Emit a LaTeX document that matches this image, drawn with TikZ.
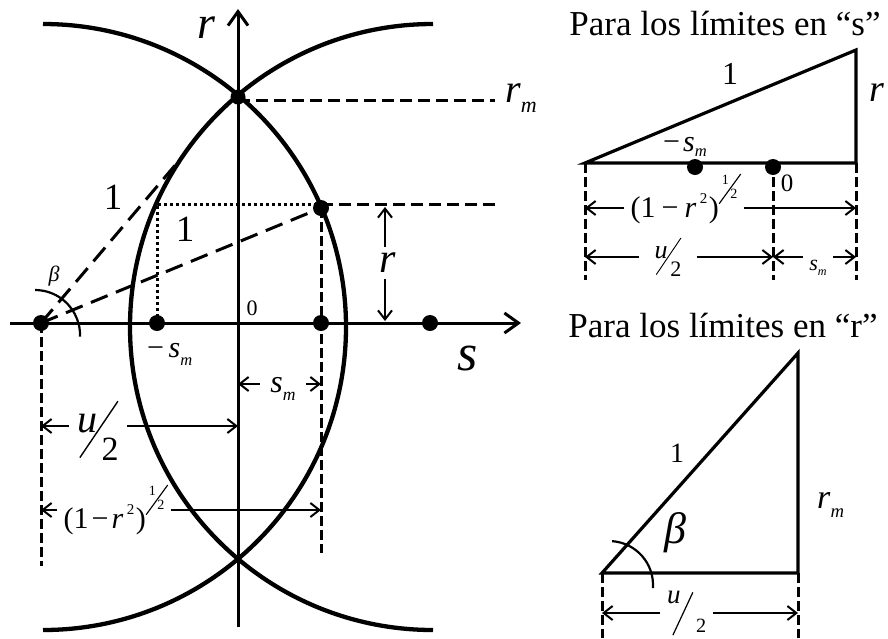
\documentclass[tikz,border=0pt]{standalone}
\usepackage{fontspec}
\setmainfont{Liberation Serif}
\usetikzlibrary{arrows.meta}
\newcommand{\fsz}[1]{\fontsize{#1}{#1}\selectfont}
\newcommand{\subm}[2]{\textit{#1}\raisebox{-0.27em}{\scalebox{0.55}{\textit{#2}}}}
\newcommand{\ufrac}[2]{#1\kern-0.45em\raisebox{-0.65em}{\rotatebox{56}{\rule{1.7em}{0.035em}}}\kern-0.42em\raisebox{-0.7em}{\scalebox{0.85}{#2}}}
\newcommand{\ufracb}[2]{#1\kern-0.31em\raisebox{-1.2em}{\rotatebox{65}{\rule{1.75em}{0.045em}}}\kern0.1em\raisebox{-1.1em}{\scalebox{0.75}{#2}}}
\newcommand{\halfexp}{\raisebox{1em}{1}\kern-0.73em\raisebox{-0.4em}{\rotatebox{54}{\rule{2.6em}{0.08em}}}\kern-0.77em 2}
\newcommand{\onemr}[1]{(1\kern#1−\kern#1\textit{r}\kern0.12em\raisebox{0.45em}{\scalebox{0.5}{2}}\kern0.05em)\kern0.1em\raisebox{0.62em}{\scalebox{0.47}{\halfexp}}}
\tikzset{
  curve/.style={line width=4.3pt},
  axis/.style={line width=3pt,-{Straight Barb[length=14pt,width=20pt]}},
  dimarr/.style={line width=2pt,-{Straight Barb[length=9pt,width=14pt]}},
  dsh/.style={line width=3pt,dash pattern=on 12pt off 6pt},
  ldsh/.style={line width=3pt,dash pattern=on 18pt off 9pt},
  vdsh/.style={line width=3pt,dash pattern=on 10pt off 4pt},
  dotl/.style={line width=3pt,dash pattern=on 3pt off 3pt},
  tri/.style={line width=3.2pt},
  thinarc/.style={line width=2.2pt},
  bigdot/.style={circle,fill=black,inner sep=0pt,minimum size=16pt},
  lbl/.style={inner sep=0pt},
}
\begin{document}
\begin{tikzpicture}[x=1pt,y=-1pt]
\path[use as bounding box] (0,0) rectangle (888,638);
% ================= left figure =================
\coordinate (Lc) at (43,327);
\coordinate (Rc) at (433,327);
\coordinate (sA) at (10,323);
\coordinate (sB) at (521,323);
\coordinate (rA) at (238,627);
\coordinate (rB) at (238,9);
\coordinate (cL) at (41,323);
\coordinate (cRR) at (430,323);
\coordinate (cms) at (157,323);
\coordinate (csm) at (321,323);
\coordinate (cr) at (321,208);
\coordinate (crm) at (238,97);
\coordinate (cq) at (157,204);
\coordinate (cqr) at (321,204);
\coordinate (cqe) at (497,204);
\coordinate (crmA) at (238,100);
\coordinate (crmE) at (495,100);
\coordinate (cU) at (177,163);
\coordinate (cLb) at (41,566);
\coordinate (crb) at (321,553);

\draw[curve] (Lc) ++(0,-303) arc[start angle=-90,end angle=90,radius=303];
\draw[curve] (Rc) ++(0,-303) arc[start angle=270,end angle=90,radius=303];

\draw[axis] (sA) -- (sB);
\draw[axis] (rA) -- (rB);

\draw[dsh] (crmA) -- (crmE);
\draw[dotl] (cms) -- (cq) -- (cqr);
\draw[dsh] (cqr) -- (cqe);
\draw[ldsh] (cL) -- (cr);
\draw[ldsh] (cL) -- (cU);
\draw[vdsh] (cL) -- (cLb);
\draw[vdsh] (cr) -- (crb);
\draw[thinarc] (80,336.6) arc[start angle=2,end angle=-90,radius=45];

\foreach \p in {cL,cRR,cms,csm,cr} \node[bigdot] (d-\p) at (\p) {};
\node[bigdot,minimum size=15pt] (d-crm) at (crm) {};

% dimension s_m
\coordinate (sm1) at (238,384);
\coordinate (sm2) at (321,384);
\node[lbl,inner xsep=10pt,anchor=base,font=\fsz{32}] (lsm) at (283,392) {\subm{s}{m}};
\draw[dimarr] (sm1 -| lsm.west) -- (sm1);
\draw[dimarr] (sm2 -| lsm.east) -- (sm2);
% dimension u/2
\coordinate (uh1) at (41,426);
\coordinate (uh2) at (238,426);
\node[lbl,inner xsep=8pt,anchor=base,font=\fsz{40}] (luh) at (98,432) {\ufrac{\textit{u}}{2}};
\draw[dimarr] (uh1 -| luh.west) -- (uh1);
\draw[dimarr] (uh2 -| luh.east) -- (uh2);
% dimension (1-r^2)^(1/2)
\coordinate (om1) at (41,510);
\coordinate (om2) at (321,510);
\node[lbl,inner xsep=6pt,anchor=base,font=\fsz{30}] (lom) at (114,528) {\onemr{0.1em}};
\draw[dimarr] (om1 -| lom.west) -- (om1);
\draw[dimarr] (om2 -| lom.east) -- (om2);
% dimension r
\coordinate (rr1) at (385,207);
\coordinate (rr2) at (385,321);
\node[lbl,inner ysep=6pt,font=\fsz{42}] (lrr) at (388,263) {\textit{r}};
\draw[dimarr] (rr1 |- lrr.north) -- (rr1);
\draw[dimarr] (rr2 |- lrr.south) -- (rr2);

% labels
\node[lbl,anchor=base,font=\fsz{46}] (lr) at (207,38) {\textit{r}};
\node[lbl,anchor=base,font=\fsz{52}] (ls) at (468,370) {\textit{s}};
\node[lbl,anchor=base west,font=\fsz{40}] (lrm) at (505,102) {\subm{r}{m}};
\node[lbl,font=\fsz{22}] (l0) at (252,308) {0};
\node[lbl,anchor=base west,font=\fsz{30}] (lms) at (147,357) {−\kern0.15em\subm{s}{m}};
\node[lbl,font=\fsz{37}] (l1a) at (113,197) {1};
\node[lbl,font=\fsz{37}] (l1b) at (185,229) {1};
\node[lbl,font=\fsz{22}] (lbeta) at (54,276) {\textit{β}};

% ================= top right =================
\node[lbl,anchor=base,font=\fsz{35}] (title1) at (725,35) {Para los límites en “s”};
\coordinate (tA) at (585,163);
\coordinate (tB) at (856,163);
\coordinate (tC) at (856,50);
\coordinate (t0) at (773,163);
\coordinate (tAb) at (585,280);
\coordinate (t0b) at (773,280);
\coordinate (tBb) at (856,280);
\coordinate (td1) at (695,167);
\coordinate (td2) at (773,167);
\draw[tri] (tA) -- (tB) -- (tC) -- cycle;
\draw[vdsh] (tA) -- (tAb);
\draw[vdsh] (t0) -- (t0b);
\draw[vdsh] (tB) -- (tBb);
\node[bigdot] (d-td1) at (td1) {};
\node[bigdot] (d-td2) at (td2) {};
\node[lbl,font=\fsz{32}] (t1) at (730,74) {1};
\node[lbl,font=\fsz{38}] (tr) at (877,93) {\textit{r}};
\node[lbl,anchor=base west,font=\fsz{30}] (tms) at (663,151) {−\kern0.1em\textit{s}\raisebox{-0.17em}{\scalebox{0.55}{\textit{m}}}};
\node[lbl,font=\fsz{25}] (t0l) at (787,183) {0};
\coordinate (to1) at (585,208);
\coordinate (to2) at (856,208);
\node[lbl,inner xsep=6pt,anchor=base,font=\fsz{30}] (ltom) at (684,217) {\onemr{0.2em}};
\draw[dimarr] (to1 -| ltom.west) -- (to1);
\draw[dimarr] (to2 -| ltom.east) -- (to2);
\coordinate (tu1) at (585,257);
\coordinate (tu2) at (773,257);
\node[lbl,inner xsep=15pt,anchor=base,font=\fsz{26}] (ltu) at (668,258) {\ufrac{\textit{u}}{2}};
\draw[dimarr] (tu1 -| ltu.west) -- (tu1);
\draw[dimarr] (tu2 -| ltu.east) -- (tu2);
\coordinate (ts1) at (773,257);
\coordinate (ts2) at (856,257);
\node[lbl,inner xsep=6pt,anchor=base,font=\fsz{22}] (lts) at (818,270) {\subm{s}{m}};
\draw[dimarr] (ts1 -| lts.west) -- (ts1);
\draw[dimarr] (ts2 -| lts.east) -- (ts2);

% ================= bottom right =================
\node[lbl,anchor=base,font=\fsz{35}] (title2) at (723,337) {Para los límites en “r”};
\coordinate (bA) at (602,573);
\coordinate (bB) at (798,573);
\coordinate (bC) at (798,353);
\coordinate (bAb) at (602,638);
\coordinate (bBb) at (798,638);
\draw[tri] (bA) -- (bB) -- (bC) -- cycle;
\draw[vdsh] (bA) -- (bAb);
\draw[vdsh] (bB) -- (bBb);
\draw[thinarc] (652.9,588.1) arc[start angle=4,end angle=-86,radius=44];
\node[lbl,font=\fsz{28}] (b1) at (677,453) {1};
\node[lbl,font=\fsz{44}] (bbeta) at (675,533) {\textit{β}};
\node[lbl,anchor=base west,font=\fsz{34}] (brm) at (817,508) {\subm{r}{m}};
\coordinate (bu1) at (602,613);
\coordinate (bu2) at (798,613);
\node[lbl,inner xsep=7pt,anchor=base west,font=\fsz{27}] (lbu) at (660,603) {\ufracb{\textit{u}}{2}};
\draw[dimarr] (bu1 -| lbu.west) -- (bu1);
\draw[dimarr] (bu2 -| lbu.east) -- (bu2);
\end{tikzpicture}
\end{document}
